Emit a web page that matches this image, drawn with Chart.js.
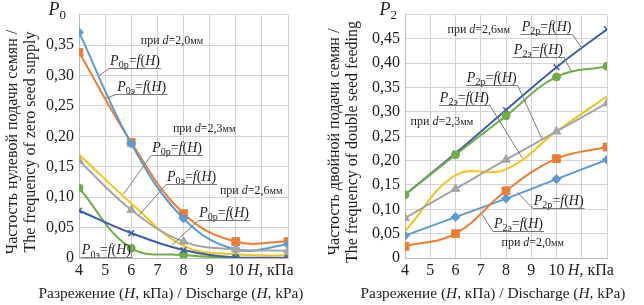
<!DOCTYPE html>
<html><head><meta charset="utf-8">
<script src="https://cdn.jsdelivr.net/npm/chart.js@4/dist/chart.umd.min.js"></script>
<style>
html,body{margin:0;padding:0;background:#fff;width:644px;height:305px;overflow:hidden}
.w{position:absolute;top:0;width:322px;height:305px}
</style></head><body>
<div class="w" style="left:0"><canvas id="c1" width="322" height="305"></canvas></div>
<div class="w" style="left:322px"><canvas id="c2" width="322" height="305"></canvas></div>
<script>
// ---- data ----
const H = [4, 6, 8, 10, 12];
const xTickLabels = [4, 5, 6, 7, 8, 9, 10];
// Left panel: P0 (zero seed supply)
const p0_d20_p = [0.371, 0.188, 0.065, 0.014, 0.022];
const p0_d20_e = [0.338, 0.190, 0.073, 0.027, 0.027];
const p0_d23_p = [0.170, 0.090, 0.020, 0.006, 0.004];
const p0_d23_e = [0.160, 0.079, 0.027, 0.014, 0.012];
const p0_d26_p = [0.078, 0.041, 0.013, 0.001, 0.000];
const p0_d26_e = [0.115, 0.016, 0.005, 0.000, 0.000];
// Right panel: P2 (double seed feeding)
const p2_d26_p = [0.130, 0.215, 0.304, 0.392, 0.470];
const p2_d26_e = [0.130, 0.212, 0.292, 0.372, 0.394];
const p2_d23_p = [0.082, 0.142, 0.202, 0.260, 0.318];
const p2_d23_e = [0.055, 0.170, 0.182, 0.260, 0.332];
const p2_d20_p = [0.046, 0.084, 0.122, 0.162, 0.202];
const p2_d20_e = [0.024, 0.050, 0.138, 0.204, 0.228];

const FONT = '"Liberation Serif", "Times New Roman", serif';
const TXT = '#1e1e1e';
function fnt(size, it){ return (it ? 'italic ' : '') + size + 'px ' + FONT; }
function segSize(s, size){ return s.sub ? size * 0.72 : (s.sm ? size * 0.85 : size); }
function measure(ctx, segs, size){
  let w = 0;
  for (const s of segs){ ctx.font = fnt(segSize(s,size), s.i); w += ctx.measureText(s.t).width; }
  return w;
}
function drawSegs(ctx, segs, x, y, size, align){
  const w = measure(ctx, segs, size);
  let cx = align === 'center' ? x - w/2 : (align === 'right' ? x - w : x);
  ctx.textAlign = 'left'; ctx.textBaseline = 'alphabetic';
  for (const s of segs){
    const sz = segSize(s,size);
    ctx.font = fnt(sz, s.i);
    ctx.fillText(s.t, cx, y + (s.sub ? size * 0.22 : 0));
    cx += ctx.measureText(s.t).width;
  }
  return w;
}
function fLabel(sub){ return [{t:'P',i:1},{t:sub,sub:1},{t:'='},{t:'f',i:1},{t:'('},{t:'H',i:1},{t:')'}]; }
function dLabel(v){ return [{t:'при '},{t:'d',i:1},{t:'='+v},{t:'мм',sm:1}]; }

function makeDecor(cfg){
  return {
    id: 'decor',
    afterDraw(chart){
      const ctx = chart.ctx, xs = chart.scales.x, ys = chart.scales.y, ca = chart.chartArea;
      ctx.save();
      ctx.fillStyle = TXT;
      drawSegs(ctx, [{t:'P',i:1},{t:cfg.pSub,sub:1}], ca.left - cfg.pGap, 15, 18, 'right');
      drawSegs(ctx, [{t:'H',i:1},{t:', кПа'}], xs.getPixelForValue(10.45), 275, 16, 'left');
      drawSegs(ctx, [{t:'Разрежение ('},{t:'H',i:1},{t:', кПа) / Discharge ('},{t:'H',i:1},{t:', kPa)'}], 171, 298, 15.4, 'center');
      ctx.save();
      ctx.translate(0, 142); ctx.rotate(-Math.PI/2);
      ctx.font = fnt(16); ctx.textAlign = 'center'; ctx.textBaseline = 'middle';
      ctx.fillText(cfg.yt1, 0, 13);
      ctx.fillText(cfg.yt2, 0, 31);
      ctx.restore();
      for (const n of cfg.notes){
        const px = xs.getPixelForValue(n.x), py = ys.getPixelForValue(n.y);
        ctx.fillStyle = TXT;
        if (n.kind === 'd'){
          drawSegs(ctx, dLabel(n.v), px, py + 4, 12, 'center');
        } else {
          const w = drawSegs(ctx, fLabel(n.sub), px, py + 5, 14, 'left');
          ctx.strokeStyle = '#7a7a7a'; ctx.lineWidth = 1;
          const uy = Math.round(py + 8) + 0.5;
          ctx.beginPath();
          ctx.moveTo(px - 1, uy); ctx.lineTo(px + w + 1, uy);
          const sx = n.side === 'L' ? px - 1 : px + w + 1;
          ctx.moveTo(sx, uy);
          ctx.lineTo(xs.getPixelForValue(n.tx), ys.getPixelForValue(n.ty));
          ctx.stroke();
        }
      }
      ctx.restore();
    }
  };
}

function ds(vals, color, style, r){
  return {
    data: H.map((x, i) => ({x: x, y: vals[i]})),
    borderColor: color, backgroundColor: color,
    borderWidth: 2, pointStyle: style, pointRadius: r, pointBorderWidth: style === 'crossRot' ? 1.5 : 1,
    tension: 0.4, fill: false
  };
}

function fmt(v){
  const r = Math.round(v * 100) / 100;
  if (r === 0) return '0';
  return r.toFixed(2).replace('.', ',');
}

function makeChart(id, datasets, yMax, yWidth, padRight, cfg){
  return new Chart(document.getElementById(id), {
    type: 'line',
    data: { datasets: datasets },
    options: {
      animation: false, responsive: false, devicePixelRatio: 1,
      layout: { padding: { left: 0, right: padRight, top: 7, bottom: 0 } },
      plugins: { legend: { display: false }, tooltip: { enabled: false } },
      scales: {
        x: {
          type: 'linear', min: 4, max: 12,
          afterBuildTicks: s => { s.ticks = []; for (let v = 4; v <= 12; v++) s.ticks.push({value: v}); },
          ticks: { callback: v => xTickLabels.includes(v) ? String(v) : '', font: { family: FONT, size: 16 }, color: TXT, padding: 3, maxRotation: 0, autoSkip: false },
          grid: { color: '#d4d4d4', drawTicks: false, lineWidth: 1 },
          border: { color: '#bcbcbc' },
          afterFit: s => { s.height = 47; }
        },
        y: {
          min: 0, max: yMax,
          ticks: { stepSize: 0.05, callback: v => (v > yMax - 0.01 ? '' : fmt(v)), font: { family: FONT, size: 16 }, color: TXT, padding: 5 },
          grid: { color: '#d4d4d4', drawTicks: false, lineWidth: 1 },
          border: { color: '#bcbcbc' },
          afterFit: s => { s.width = yWidth; }
        }
      }
    },
    plugins: [makeDecor(cfg)]
  });
}

const BLUE = '#5b9bd5', ORANGE = '#ed7d31', GRAY = '#a5a5a5', YELLOW = '#f2c414', NAVY = '#3f5fab', GREEN = '#70ad47';

makeChart('c1', [
  ds(p0_d26_p, NAVY, 'crossRot', 4),
  ds(p0_d26_e, GREEN, 'circle', 4),
  ds(p0_d23_e, GRAY, 'triangle', 5),
  ds(p0_d23_p, YELLOW, 'circle', 0),
  ds(p0_d20_p, BLUE, 'rectRot', 4.5),
  ds(p0_d20_e, ORANGE, 'rect', 5.5)
], 0.40, 79, 34, {
  pSub: '0', pGap: 13,
  yt1: 'Частость нулевой подачи семян /',
  yt2: 'The frequency of zero seed supply',
  notes: [
    {kind:'d', v:'2,0', x:7.56, y:0.359},
    {kind:'f', sub:'0р', x:5.19, y:0.325, side:'L', tx:4.78, ty:0.30},
    {kind:'f', sub:'0э', x:5.46, y:0.283, side:'L', tx:5.0, ty:0.262},
    {kind:'d', v:'2,3', x:8.79, y:0.214},
    {kind:'f', sub:'0р', x:6.80, y:0.183, side:'L', tx:5.7, ty:0.105},
    {kind:'f', sub:'0э', x:7.37, y:0.135, side:'L', tx:6.3, ty:0.07},
    {kind:'d', v:'2,6', x:10.59, y:0.111},
    {kind:'f', sub:'0р', x:8.60, y:0.076, side:'L', tx:7.56, ty:0.021},
    {kind:'f', sub:'0э', x:4.11, y:0.014, side:'R', tx:5.95, ty:0.016}
  ]
});

makeChart('c2', [
  ds(p2_d20_e, ORANGE, 'rect', 5.5),
  ds(p2_d20_p, BLUE, 'rectRot', 4.5),
  ds(p2_d23_p, GRAY, 'triangle', 5),
  ds(p2_d23_e, YELLOW, 'circle', 0),
  ds(p2_d26_e, GREEN, 'circle', 4),
  ds(p2_d26_p, NAVY, 'crossRot', 4)
], 0.50, 83, 37, {
  pSub: '2', pGap: 8,
  yt1: 'Частость двойной подачи семян /',
  yt2: 'The frequency of double seed feeding',
  notes: [
    {kind:'d', v:'2,6', x:6.92, y:0.47},
    {kind:'f', sub:'2р', x:8.62, y:0.476, side:'R', tx:11.0, ty:0.431},
    {kind:'f', sub:'2э', x:8.31, y:0.43, side:'R', tx:10.6, ty:0.382},
    {kind:'f', sub:'2р', x:6.45, y:0.372, side:'R', tx:9.42, ty:0.245},
    {kind:'f', sub:'2э', x:5.38, y:0.33, side:'R', tx:8.65, ty:0.205},
    {kind:'d', v:'2,3', x:5.46, y:0.282},
    {kind:'f', sub:'2р', x:9.10, y:0.12, side:'L', tx:8.45, ty:0.135},
    {kind:'f', sub:'2э', x:7.52, y:0.072, side:'L', tx:7.05, ty:0.09},
    {kind:'d', v:'2,0', x:9.06, y:0.032}
  ]
});
</script>
</body></html>
